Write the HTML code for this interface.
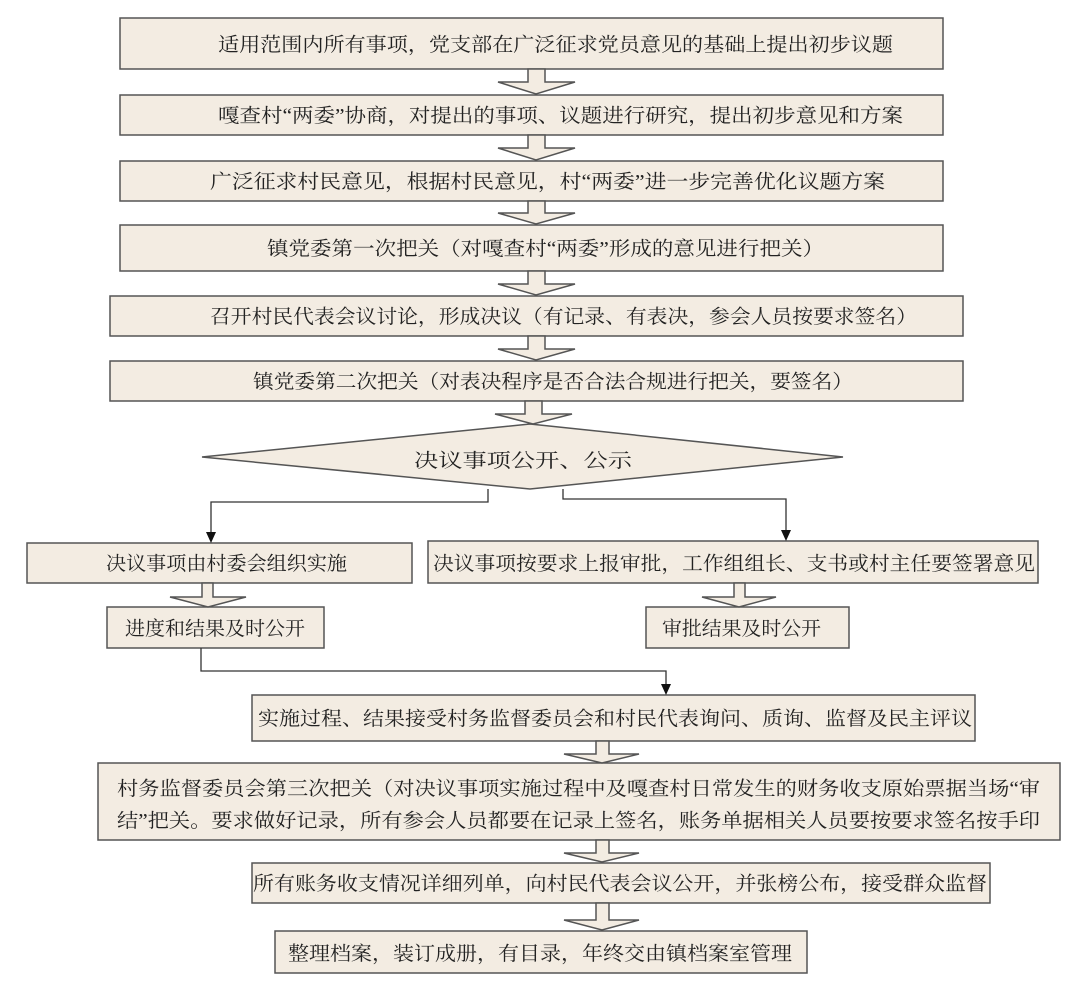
<!DOCTYPE html>
<html><head><meta charset="utf-8"><style>
html,body{margin:0;padding:0;background:#fff;}
svg{display:block;}
text{font-family:"Liberation Serif","Noto Serif CJK SC",serif;font-size:19.5px;fill:#222;}
</style></head><body>
<svg width="1080" height="982" viewBox="0 0 1080 982" xmlns="http://www.w3.org/2000/svg">
<g fill="#f3ece2" stroke="#555" stroke-width="1.5">
<rect x="120" y="18" width="823" height="51"/>
<rect x="120" y="95" width="823" height="40"/>
<rect x="120" y="161" width="823" height="40"/>
<rect x="120" y="225" width="823" height="46"/>
<rect x="110" y="296" width="853" height="40"/>
<rect x="110" y="361" width="853" height="40"/>
<polygon points="530,424 843,457 530,489 202,457"/>
<rect x="27" y="543" width="385" height="40"/>
<rect x="107" y="607" width="217" height="41"/>
<rect x="428" y="541" width="610" height="42"/>
<rect x="646" y="607" width="203" height="41"/>
<rect x="252" y="695" width="723" height="46"/>
<rect x="98" y="763" width="962" height="77"/>
<rect x="252" y="863" width="738" height="40"/>
<rect x="275" y="931" width="532" height="42"/>
<polygon points="528,69 545,69 545,82 575,82 536,94 498,82 528,82"/>
<polygon points="528,135 545,135 545,148 575,148 536,160 498,148 528,148"/>
<polygon points="528,201 545,201 545,213 575,213 536,224 498,213 528,213"/>
<polygon points="528,271 545,271 545,284 575,284 536,295 498,284 528,284"/>
<polygon points="528,336 545,336 545,349 575,349 536,360 498,349 528,349"/>
<polygon points="525,401 542,401 542,414 572,414 533,424 495,414 525,414"/>
<polygon points="202,583 213,583 213,597 246,597 208,607 170,597 202,597"/>
<polygon points="734,583 745,583 745,597 776,597 739,607 702,597 734,597"/>
<polygon points="596,741 609,741 609,754 639,754 602,763 564,754 596,754"/>
<polygon points="596,840 609,840 609,853 639,853 602,862 564,853 596,853"/>
<polygon points="596,903 609,903 609,920 639,920 602,930 564,920 596,920"/>
</g>
<g fill="none" stroke="#333" stroke-width="1.3">
<polyline points="488,489 488,502 211,502 211,533"/>
<polyline points="563,489 563,499 786,499 786,531"/>
<polyline points="201,648 201,671 666,671 666,685"/>
</g>
<g fill="#111">
<polygon points="206,532 216,532 211,543"/>
<polygon points="781,530 791,530 786,541"/>
<polygon points="661,684 671,684 666,695"/>
</g>
<text x="218" y="51" textLength="675" lengthAdjust="spacingAndGlyphs">适用范围内所有事项，党支部在广泛征求党员意见的基础上提出初步议题</text>
<text x="218" y="122" textLength="685" lengthAdjust="spacingAndGlyphs">嘎查村“两委”协商，对提出的事项、议题进行研究，提出初步意见和方案</text>
<text x="210" y="188" textLength="675" lengthAdjust="spacingAndGlyphs">广泛征求村民意见，根据村民意见，村“两委”进一步完善优化议题方案</text>
<text x="267" y="255" textLength="557" lengthAdjust="spacingAndGlyphs">镇党委第一次把关（对嘎查村“两委”形成的意见进行把关）</text>
<text x="210" y="323" textLength="707" lengthAdjust="spacingAndGlyphs">召开村民代表会议讨论，形成决议（有记录、有表决，参会人员按要求签名）</text>
<text x="253" y="388" textLength="600" lengthAdjust="spacingAndGlyphs">镇党委第二次把关（对表决程序是否合法合规进行把关，要签名）</text>
<text x="414" y="467" textLength="218" lengthAdjust="spacingAndGlyphs">决议事项公开、公示</text>
<text x="106" y="570" textLength="241" lengthAdjust="spacingAndGlyphs">决议事项由村委会组织实施</text>
<text x="125" y="635" textLength="180" lengthAdjust="spacingAndGlyphs">进度和结果及时公开</text>
<text x="433" y="570" textLength="602" lengthAdjust="spacingAndGlyphs">决议事项按要求上报审批，工作组组长、支书或村主任要签署意见</text>
<text x="662" y="635" textLength="159" lengthAdjust="spacingAndGlyphs">审批结果及时公开</text>
<text x="258" y="725" textLength="714" lengthAdjust="spacingAndGlyphs">实施过程、结果接受村务监督委员会和村民代表询问、质询、监督及民主评议</text>
<text x="117" y="795" textLength="923" lengthAdjust="spacingAndGlyphs">村务监督委员会第三次把关（对决议事项实施过程中及嘎查村日常发生的财务收支原始票据当场“审</text>
<text x="117" y="827" textLength="923" lengthAdjust="spacingAndGlyphs">结”把关。要求做好记录，所有参会人员都要在记录上签名，账务单据相关人员要按要求签名按手印</text>
<text x="253" y="890" textLength="734" lengthAdjust="spacingAndGlyphs">所有账务收支情况详细列单，向村民代表会议公开，并张榜公布，接受群众监督</text>
<text x="288" y="960" textLength="504" lengthAdjust="spacingAndGlyphs">整理档案，装订成册，有目录，年终交由镇档案室管理</text>
</svg>
</body></html>
